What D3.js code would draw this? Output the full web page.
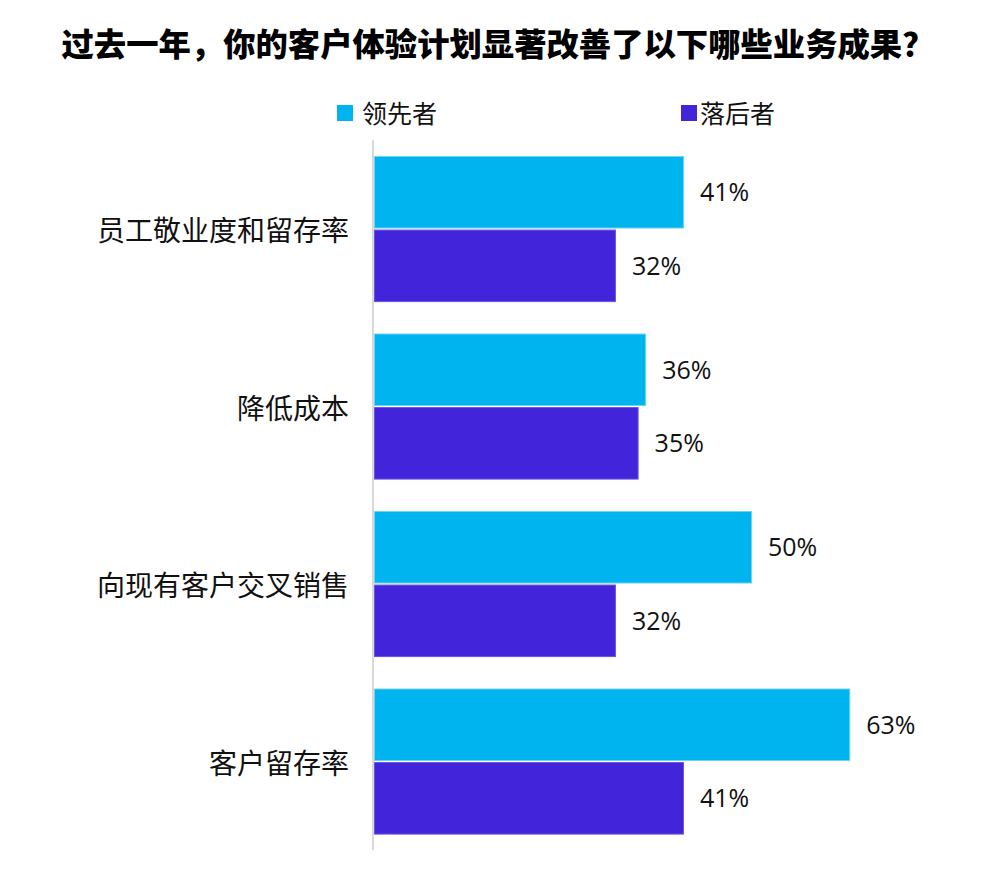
<!DOCTYPE html>
<html><head><meta charset="utf-8">
<script src="https://cdn.jsdelivr.net/npm/d3@7/dist/d3.min.js"></script>
<style>body{margin:0;background:#fff}</style>
</head><body>
<svg id="chart" width="1000" height="870"></svg>
<script>
const title = "过去一年，你的客户体验计划显著改善了以下哪些业务成果？";
const categories = ["员工敬业度和留存率", "降低成本", "向现有客户交叉销售", "客户留存率"];
const seriesNames = ["领先者", "落后者"];
const leaders = [41, 36, 50, 63];
const laggards = [32, 35, 32, 41];
const colors = ["#00B4EF", "#4224DA"];
const strokes = ["#6fd3f6", "#6a52e6"];

const svg = d3.select("#chart");
const x = d3.scaleLinear().domain([0, 100]).range([374, 1130]);
const y0 = d3.scaleBand().domain(categories).range([140.3, 850.3]).paddingInner(0.177).paddingOuter(0.0885);
const y1 = d3.scaleBand().domain(seriesNames).range([0, y0.bandwidth()]).paddingInner(0.014);
const series = [leaders, laggards];

svg.append("text").attr("x", 498).attr("y", 56).attr("text-anchor", "middle")
  .attr("font-family", "'Noto Sans CJK SC'").attr("font-weight", 900).attr("font-size", 32)
  .attr("textLength", 873).attr("lengthAdjust", "spacingAndGlyphs")
  .attr("fill", "#000").text(title);

// legend
const legendX = [337, 681];
const legendTextX = [362, 700];
seriesNames.forEach((s, i) => {
  svg.append("rect").attr("x", legendX[i]).attr("y", 105).attr("width", 16).attr("height", 16).attr("fill", colors[i]);
  svg.append("text").attr("x", legendTextX[i]).attr("y", 114).attr("dy", "0.36em")
    .attr("font-family", "'Noto Sans CJK SC'").attr("font-size", 25).attr("fill", "#111").text(s);
});

// axis line
svg.append("line").attr("x1", 373).attr("x2", 373).attr("y1", y0.range()[0]).attr("y2", y0.range()[1])
  .attr("stroke", "#d9d9d9").attr("stroke-width", 2);

categories.forEach((c, ci) => {
  const g = svg.append("g").attr("transform", `translate(0,${y0(c)})`);
  seriesNames.forEach((s, si) => {
    const v = series[si][ci];
    g.append("rect").attr("x", x(0) + 0.5).attr("y", y1(s) + 0.5)
      .attr("width", x(v) - x(0) - 1).attr("height", y1.bandwidth() - 1)
      .attr("fill", colors[si]).attr("stroke", strokes[si]).attr("stroke-width", 1);
    g.append("text").attr("x", x(v) + 16).attr("y", y1(s) + y1.bandwidth() / 2).attr("dy", "0.36em")
      .attr("font-family", "'Open Sans'").attr("font-size", 25).attr("fill", "#111").text(v + "%");
  });
  svg.append("text").attr("x", 349).attr("y", y0(c) + y0.bandwidth() / 2 + 2).attr("dy", "0.36em")
    .attr("text-anchor", "end").attr("font-family", "'Noto Sans CJK SC'").attr("font-size", 28)
    .attr("fill", "#111").text(c);
});
</script>
</body></html>
